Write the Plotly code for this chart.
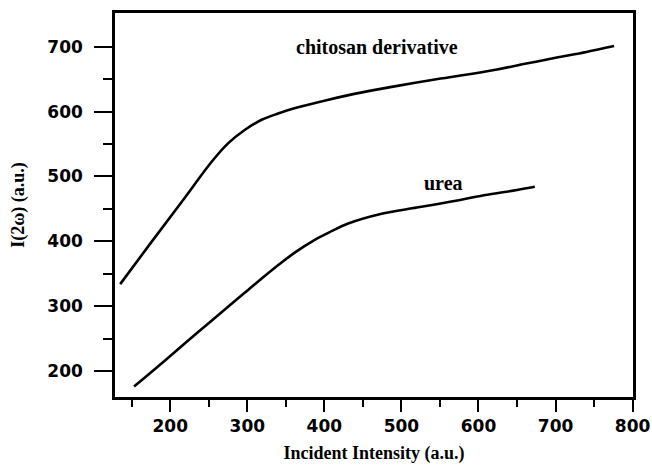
import plotly.graph_objects as go

# Second-harmonic intensity vs incident intensity
chitosan_x = [135, 175, 215, 254, 275, 297, 318, 340, 361, 404, 430, 473, 516, 551, 579, 624, 662, 700, 740, 776]
chitosan_y = [334, 398, 461, 523, 551, 572, 587, 597, 605, 618, 625, 635, 644, 651, 656, 665, 674, 683, 692, 701]

urea_x = [153, 194, 237, 280, 301, 323, 344, 362, 387, 410, 430, 473, 520, 563, 607, 650, 673]
urea_y = [176, 217, 261, 304, 325, 347, 367, 383, 402, 416, 427, 442, 452, 461, 471, 479, 484]

series_labels = ["chitosan derivative", "urea"]
label_pos = [(468, 700), (555, 490)]

x_ticks = [200, 300, 400, 500, 600, 700, 800]
y_ticks = [200, 300, 400, 500, 600, 700]

fig = go.Figure()
for xs, ys, name in [(chitosan_x, chitosan_y, series_labels[0]), (urea_x, urea_y, series_labels[1])]:
    fig.add_trace(go.Scatter(
        x=xs, y=ys, mode="lines", name=name,
        line=dict(color="black", width=2.6, shape="spline", smoothing=1.0),
    ))

for text, (lx, ly) in zip(series_labels, label_pos):
    fig.add_annotation(
        x=lx, y=ly, text=f"<b>{text}</b>", showarrow=False,
        font=dict(family="Liberation Serif", size=20, color="black"),
    )

tick_font = dict(family="DejaVu Sans", size=17, color="black", weight="bold")
title_font = dict(family="Liberation Serif", size=18, color="black", weight="bold")

fig.update_layout(
    width=652, height=467,
    margin=dict(l=115, r=19, t=13, b=70),
    paper_bgcolor="white", plot_bgcolor="white",
    showlegend=False,
    xaxis=dict(
        range=[128.3, 800.5], tickvals=x_ticks, ticktext=[str(v) for v in x_ticks],
        ticks="outside", ticklen=12, tickwidth=2, tickcolor="black",
        minor=dict(tickvals=[150, 250, 350, 450, 550, 650, 750], ticks="outside",
                   ticklen=7, tickwidth=2, tickcolor="black", showgrid=False),
        showline=True, linewidth=2.5, linecolor="black", mirror=True,
        showgrid=False, zeroline=False, tickfont=tick_font, automargin=False,
        ticklabeloverflow="allow",
        title=dict(text="Incident Intensity (a.u.)", font=title_font, standoff=12),
    ),
    yaxis=dict(
        range=[160, 752], tickvals=y_ticks, ticktext=[str(v) for v in y_ticks],
        ticks="outside", ticklen=18, tickwidth=2, tickcolor="black",
        minor=dict(tickvals=[250, 350, 450, 550, 650], ticks="outside",
                   ticklen=9, tickwidth=2, tickcolor="black", showgrid=False),
        showline=True, linewidth=2.5, linecolor="black", mirror=True,
        showgrid=False, zeroline=False, tickfont=tick_font, ticklabelstandoff=8,
        automargin=False,
        title=dict(text="I(2ω) (a.u.)", font=title_font, standoff=19),
    ),
)

fig.write_html("out.html")
